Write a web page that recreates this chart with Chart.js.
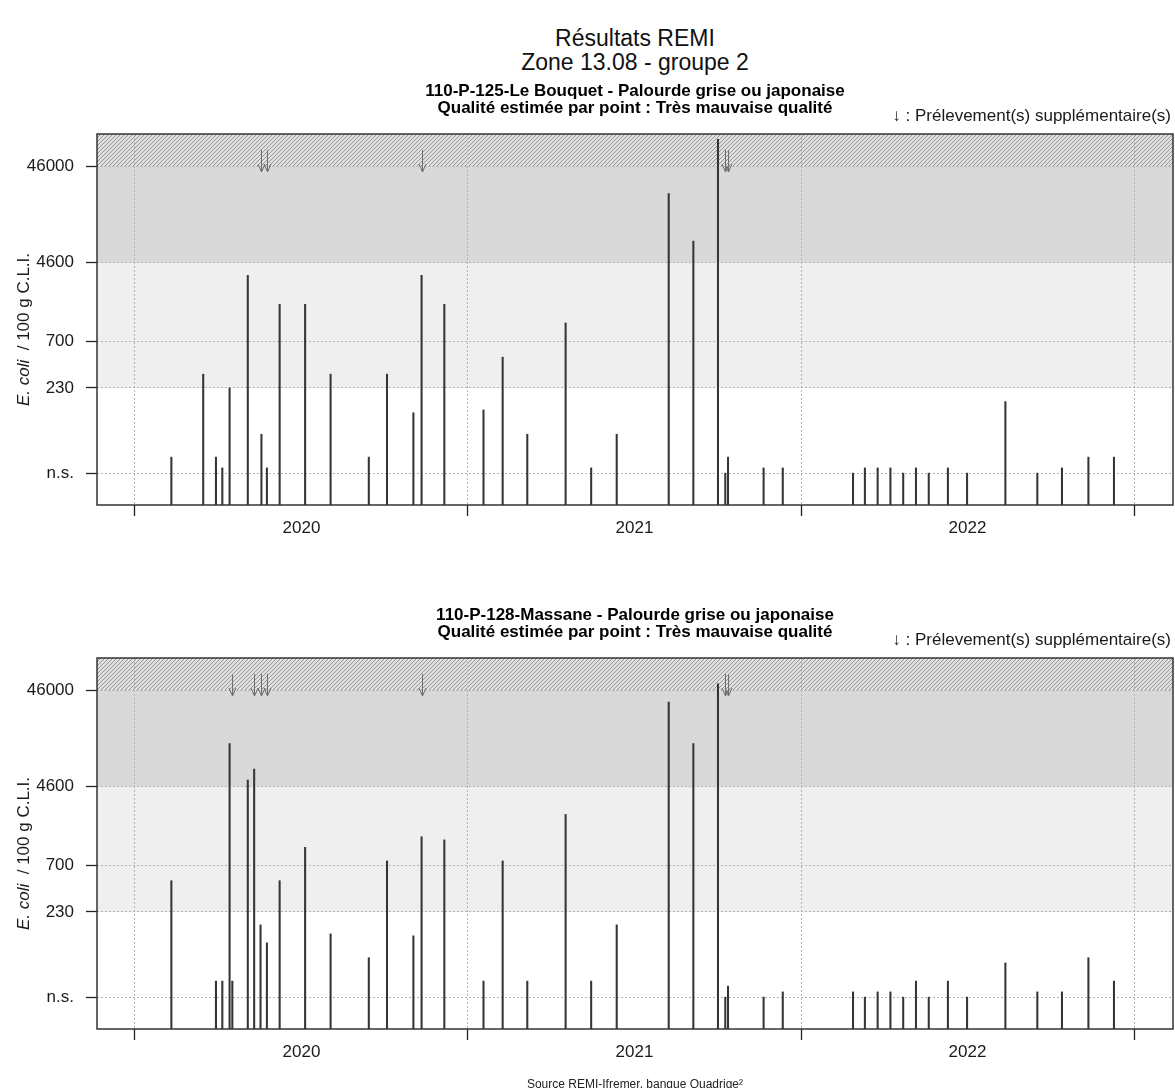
<!DOCTYPE html>
<html lang="fr">
<head>
<meta charset="utf-8">
<title>Résultats REMI - Zone 13.08 - groupe 2</title>
<script src="https://cdn.jsdelivr.net/npm/chart.js@4.4.1/dist/chart.umd.min.js"></script>
<style>
  html, body { margin: 0; padding: 0; background: #fff; }
  body { width: 1175px; height: 1088px; overflow: hidden; position: relative;
         font-family: 'Liberation Sans', Arial, sans-serif; color: #111; }
  .main-title { position: absolute; left: 97px; width: 1076px; text-align: center;
                font-size: 23px; line-height: 24px; }
  .panel { position: absolute; left: 0; width: 1175px; height: 480px; }
  .source { position: absolute; left: 97px; width: 1076px; top: 1077px; text-align: center;
            font-size: 12px; line-height: 14px; color: #222; }
</style>
</head>
<body>
<div class="main-title" style="top:26px">Résultats REMI</div>
<div class="main-title" style="top:50px">Zone 13.08 - groupe 2</div>
<div class="panel" style="top:75px"><canvas id="bouquet" width="1175" height="480"></canvas></div>
<div class="panel" style="top:599px"><canvas id="massane" width="1175" height="480"></canvas></div>
<div class="source">Source REMI-Ifremer, banque Quadrige²</div>

<script>
// x axis : one label per year, ticks and grid on 1st January
const years = [2020, 2021, 2022];

// y axis (log) : n.s. level and REMI thresholds
const yTickValues = [30, 230, 700, 4600, 46000];
const yTickLabels = ['n.s.', '230', '700', '4600', '46000'];
const qualityLimits = [230, 4600, 46000];

const legendText = '\u2193 : Prélevement(s) supplémentaire(s)';

// 110-P-125 Le Bouquet
const bouquetTitle = ['110-P-125-Le Bouquet - Palourde grise ou japonaise',
                      'Qualité estimée par point : Très mauvaise qualité'];
const bouquetDates = ['2020-02-10', '2020-03-16', '2020-03-30', '2020-04-06', '2020-04-14', '2020-05-04',
  '2020-05-19', '2020-05-25', '2020-06-08', '2020-07-06', '2020-08-03', '2020-09-14', '2020-10-04',
  '2020-11-02', '2020-11-11', '2020-12-06', '2021-01-18', '2021-02-08', '2021-03-07', '2021-04-18',
  '2021-05-16', '2021-06-13', '2021-08-09', '2021-09-05', '2021-10-02', '2021-10-10', '2021-10-13',
  '2021-11-21', '2021-12-12', '2022-02-27', '2022-03-12', '2022-03-26', '2022-04-09', '2022-04-23',
  '2022-05-07', '2022-05-21', '2022-06-11', '2022-07-02', '2022-08-13', '2022-09-17', '2022-10-14',
  '2022-11-12', '2022-12-10'];
const bouquetValues = [44, 320, 44, 34, 230, 3400,
  76, 34, 1700, 1700, 320, 44, 320,
  127, 3400, 1700, 136, 480, 76, 1090,
  34, 76, 24000, 7700, 88000, 30, 44,
  34, 34, 30, 34, 34, 34, 30,
  34, 30, 34, 30, 166, 30, 34,
  44, 44];
const bouquetExtra = ['2020-05-19', '2020-05-25', '2020-11-11', '2021-10-10', '2021-10-13'];

// 110-P-128 Massane
const massaneTitle = ['110-P-128-Massane - Palourde grise ou japonaise',
                      'Qualité estimée par point : Très mauvaise qualité'];
const massaneDates = ['2020-02-10', '2020-03-30', '2020-04-06', '2020-04-14', '2020-04-17', '2020-05-04',
  '2020-05-11', '2020-05-18', '2020-05-25', '2020-06-08', '2020-07-06', '2020-08-03', '2020-09-14',
  '2020-10-04', '2020-11-02', '2020-11-11', '2020-12-06', '2021-01-18', '2021-02-08', '2021-03-07',
  '2021-04-18', '2021-05-16', '2021-06-13', '2021-08-09', '2021-09-05', '2021-10-02', '2021-10-10',
  '2021-10-13', '2021-11-21', '2021-12-12', '2022-02-27', '2022-03-12', '2022-03-26', '2022-04-09',
  '2022-04-23', '2022-05-07', '2022-05-21', '2022-06-11', '2022-07-02', '2022-08-13', '2022-09-17',
  '2022-10-14', '2022-11-12', '2022-12-10'];
const massaneValues = [486, 44, 44, 12900, 44, 5400,
  7000, 169, 110, 486, 1080, 136, 77,
  780, 130, 1390, 1290, 44, 780, 44,
  2370, 44, 169, 34800, 12900, 54000, 30,
  39, 30, 34, 34, 30, 34, 34,
  30, 44, 30, 44, 30, 68, 34,
  34, 77, 44];
const massaneExtra = ['2020-04-17', '2020-05-11', '2020-05-18', '2020-05-25', '2020-11-11',
  '2021-10-10', '2021-10-13'];

const xMin = 2019.886, xMax = 2023.117;
const yMin = 14, yMax = 100000;

Chart.defaults.font.family = "'Liberation Sans', Arial, sans-serif";
Chart.defaults.color = '#1a1a1a';

// date string -> decimal year
function toYear(s) {
  const d = Date.parse(s + 'T00:00:00Z');
  const y = new Date(d).getUTCFullYear();
  const start = Date.UTC(y, 0, 1), end = Date.UTC(y + 1, 0, 1);
  return y + (d - start) / (end - start);
}

function hatchPattern(ctx) {
  const tile = document.createElement('canvas');
  tile.width = 4; tile.height = 4;
  const t = tile.getContext('2d');
  t.fillStyle = '#e0e0e0';
  t.fillRect(0, 0, 4, 4);
  t.strokeStyle = '#969696';
  t.lineWidth = 1;
  t.beginPath();
  t.moveTo(-1, 5); t.lineTo(5, -1);
  t.moveTo(-1, 1); t.lineTo(1, -1);
  t.moveTo(3, 5); t.lineTo(5, 3);
  t.stroke();
  return ctx.createPattern(tile, 'repeat');
}

function decorPlugin(extraDates) {
  return {
    id: 'remiDecor',
    beforeDraw(chart) {
      const { ctx, chartArea: a, scales: { y } } = chart;
      const yLow = y.getPixelForValue(qualityLimits[0]);
      const yMid = y.getPixelForValue(qualityLimits[1]);
      const yHigh = y.getPixelForValue(qualityLimits[2]);
      ctx.save();
      ctx.fillStyle = '#efefef';
      ctx.fillRect(a.left, yMid, a.width, yLow - yMid);
      ctx.fillStyle = '#d9d9d9';
      ctx.fillRect(a.left, yHigh, a.width, yMid - yHigh);
      ctx.fillStyle = hatchPattern(ctx);
      ctx.fillRect(a.left, a.top, a.width, yHigh - a.top);
      ctx.restore();
    },
    afterDraw(chart) {
      const { ctx, chartArea: a, scales: { x } } = chart;
      ctx.save();
      // plot box
      ctx.strokeStyle = '#333';
      ctx.lineWidth = 1.5;
      ctx.strokeRect(a.left, a.top, a.width, a.height);

      // arrows for extra samples
      ctx.strokeStyle = '#6e6e6e';
      ctx.lineWidth = 1;
      extraDates.forEach(d => {
        const px = Math.round(x.getPixelForValue(toYear(d))) + 0.5;
        ctx.beginPath();
        ctx.moveTo(px, a.top + 16);
        ctx.lineTo(px, a.top + 38);
        ctx.moveTo(px - 3.5, a.top + 30);
        ctx.lineTo(px, a.top + 38);
        ctx.lineTo(px + 3.5, a.top + 30);
        ctx.stroke();
      });

      // legend at top right
      ctx.fillStyle = '#1a1a1a';
      ctx.font = "17px 'Liberation Sans', Arial, sans-serif";
      ctx.textAlign = 'right';
      ctx.textBaseline = 'middle';
      ctx.fillText(legendText, a.right - 2, a.top - 18);

      // y axis title, "E. coli" in italics
      const part1 = 'E. coli', part2 = '  / 100 g C.L.I.';
      const fItal = "italic 17px 'Liberation Sans', Arial, sans-serif";
      const fNorm = "17px 'Liberation Sans', Arial, sans-serif";
      ctx.font = fItal; const w1 = ctx.measureText(part1).width;
      ctx.font = fNorm; const w2 = ctx.measureText(part2).width;
      ctx.translate(24, (a.top + a.bottom) / 2 + 10);
      ctx.rotate(-Math.PI / 2);
      ctx.textAlign = 'left';
      ctx.font = fItal;
      ctx.fillText(part1, -(w1 + w2) / 2, 0);
      ctx.font = fNorm;
      ctx.fillText(part2, -(w1 + w2) / 2 + w1, 0);
      ctx.restore();
    }
  };
}

function isYearTick(c) {
  return c.tick && Number.isInteger(c.tick.value);
}

function makeChart(id, titleLines, dates, values, extraDates) {
  const points = dates.map((d, i) => ({ x: toYear(d), y: [yMin, values[i]] }));
  return new Chart(document.getElementById(id), {
    type: 'bar',
    data: {
      datasets: [{
        data: points,
        backgroundColor: '#353535',
        borderWidth: 0,
        barThickness: 1.4
      }]
    },
    options: {
      responsive: false,
      animation: false,
      layout: { padding: { left: 0, right: 2, top: 0, bottom: 0 } },
      plugins: {
        legend: { display: false },
        tooltip: { enabled: false },
        title: {
          display: true,
          text: titleLines,
          fullSize: false,
          color: '#000',
          font: { size: 17, weight: 'bold', lineHeight: 1.0 },
          padding: { top: 8, bottom: 17 }
        }
      },
      scales: {
        x: {
          type: 'linear',
          min: xMin,
          max: xMax,
          bounds: 'data',
          offset: false,
          afterFit: s => { s.height = 50; },
          afterBuildTicks: s => {
            const t = [];
            years.forEach(yr => { t.push({ value: yr }); t.push({ value: yr + 0.5 }); });
            t.push({ value: years[years.length - 1] + 1 });
            s.ticks = t;
          },
          ticks: {
            autoSkip: false,
            maxRotation: 0,
            padding: 2,
            font: { size: 17 },
            color: '#1a1a1a',
            callback: v => Number.isInteger(v) ? '' : String(Math.floor(v))
          },
          grid: {
            offset: false,
            lineWidth: 1,
            color: c => isYearTick(c) ? '#b3b3b3' : 'rgba(0,0,0,0)',
            tickColor: c => isYearTick(c) ? '#222' : 'rgba(0,0,0,0)',
            tickLength: 11,
            tickWidth: 1.3,
            tickBorderDash: []
          },
          border: { display: false, dash: [2, 2] }
        },
        y: {
          type: 'logarithmic',
          min: yMin,
          max: yMax,
          bounds: 'data',
          afterFit: s => { s.width = 97; },
          afterBuildTicks: s => { s.ticks = yTickValues.map(v => ({ value: v })); },
          ticks: {
            autoSkip: false,
            padding: 12,
            font: { size: 17 },
            color: '#1a1a1a',
            callback: (v, i) => yTickLabels[i]
          },
          grid: {
            lineWidth: 1,
            color: '#b3b3b3',
            tickColor: '#222',
            tickLength: 11,
            tickWidth: 1.3,
            tickBorderDash: []
          },
          border: { display: false, dash: [2, 2] }
        }
      }
    },
    plugins: [decorPlugin(extraDates)]
  });
}

makeChart('bouquet', bouquetTitle, bouquetDates, bouquetValues, bouquetExtra);
makeChart('massane', massaneTitle, massaneDates, massaneValues, massaneExtra);
</script>
</body>
</html>
